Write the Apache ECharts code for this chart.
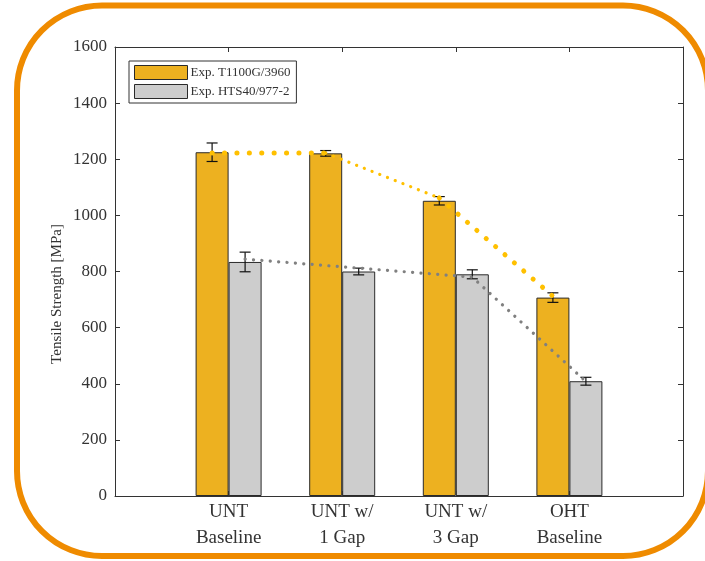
<!DOCTYPE html>
<html>
<head>
<meta charset="utf-8">
<script src="https://cdn.jsdelivr.net/npm/echarts@6/dist/echarts.min.js"></script>
<style>html,body{margin:0;padding:0;background:#fff;}#c{width:705px;height:561px;}</style>
</head>
<body>
<div id="c"></div>
<script>
// ---- data ----
const categories = ['UNT\nBaseline', 'UNT w/\n1 Gap', 'UNT w/\n3 Gap', 'OHT\nBaseline'];
const seriesNames = ['Exp. T1100G/3960', 'Exp. HTS40/977-2'];
const t1100Values = [1225, 1221, 1052, 707];
const t1100Errors = [33, 10, 15, 17];
const hts40Values = [834, 800, 790, 409];
const hts40Errors = [35, 12, 16, 14];
const t1100Trend = [1222, 1222, 1062, 712];
const hts40Trend = [844, 812, 780, 408];
const yTicks = [0, 200, 400, 600, 800, 1000, 1200, 1400, 1600];

// ---- layout / style ----
const GRID = {left: 115, right: 22, top: 47, bottom: 65};
const BAR_W = 33;
const X_MAX = categories.length + 1;
const unitPx = (705 - GRID.left - GRID.right) / X_MAX;
const halfBarUnits = (BAR_W / 2) / unitPx;
const ORANGE = '#EDB120', GREY = '#CDCDCD', EDGE = '#2a2a2a';
const FONT = 'Liberation Serif';
const TXT = '#333';

const catX = categories.map((_, i) => i + 1);

function barData(vals) { return vals.map((v, i) => [catX[i], v]); }
function errData(vals, errs, side) {
  return vals.map((v, i) => [catX[i], v - errs[i], v + errs[i], side]);
}
function trendData(vals, side, keep) {
  return vals.map((v, i) => keep(i) ? [catX[i] + side * halfBarUnits, v] : '-');
}

const errorSeries = (vals, errs, side) => ({
  type: 'custom',
  data: errData(vals, errs, side),
  z: 5,
  silent: true,
  encode: {x: 0, y: [1, 2]},
  renderItem: function (params, api) {
    const cx = api.coord([api.value(0), 0])[0] + api.value(3) * BAR_W / 2;
    const lo = api.coord([api.value(0), api.value(1)])[1];
    const hi = api.coord([api.value(0), api.value(2)])[1];
    const cap = 5.5;
    const st = {stroke: '#111', lineWidth: 1.2};
    return {
      type: 'group',
      children: [
        {type: 'line', shape: {x1: cx, y1: lo, x2: cx, y2: hi}, style: st},
        {type: 'line', shape: {x1: cx - cap, y1: lo, x2: cx + cap, y2: lo}, style: st},
        {type: 'line', shape: {x1: cx - cap, y1: hi, x2: cx + cap, y2: hi}, style: st}
      ]
    };
  }
});

const trendSeries = (vals, side, keep, color, width, gap) => ({
  type: 'line',
  data: trendData(vals, side, keep),
  symbol: 'none',
  z: 6,
  silent: true,
  connectNulls: false,
  lineStyle: {color: color, width: width, type: [0.1, gap], cap: 'round'}
});

const axisCommon = () => ({
  axisLine: {show: true, onZero: false, lineStyle: {color: '#333', width: 1}},
  axisTick: {show: true, inside: true, length: 5, lineStyle: {color: '#333'}},
  splitLine: {show: false}
});

const chart = echarts.init(document.getElementById('c'), null, {renderer: 'canvas'});
chart.setOption({
  animation: false,
  backgroundColor: '#fff',
  grid: GRID,
  legend: {
    data: seriesNames.map(n => ({name: n, icon: 'rect'})),
    orient: 'vertical',
    left: 129, top: 61,
    itemWidth: 53, itemHeight: 14, itemGap: 4,
    padding: [4, 6, 4, 5],
    borderColor: '#333', borderWidth: 1, borderRadius: 0,
    backgroundColor: '#fff',
    textStyle: {fontFamily: FONT, fontSize: 13, color: TXT, padding: [0, 0, 0, -2]},
    itemStyle: {borderColor: EDGE, borderWidth: 1}
  },
  xAxis: [
    Object.assign(axisCommon(), {
      type: 'value', min: 0, max: X_MAX, interval: 1, position: 'bottom',
      axisLabel: {
        fontFamily: FONT, fontSize: 19, color: TXT, lineHeight: 26, margin: 3,
        formatter: v => (v >= 1 && v <= categories.length) ? categories[v - 1] : ''
      }
    }),
    Object.assign(axisCommon(), {
      type: 'value', min: 0, max: X_MAX, interval: 1, position: 'top',
      axisLabel: {show: false}
    })
  ],
  yAxis: [
    Object.assign(axisCommon(), {
      type: 'value', min: yTicks[0], max: yTicks[yTicks.length - 1], interval: yTicks[1] - yTicks[0],
      position: 'left',
      axisLabel: {fontFamily: FONT, fontSize: 17, color: TXT, margin: 8, formatter: v => String(v)}
    }),
    Object.assign(axisCommon(), {
      type: 'value', min: yTicks[0], max: yTicks[yTicks.length - 1], interval: yTicks[1] - yTicks[0],
      position: 'right',
      axisLabel: {show: false}
    })
  ],
  graphic: [
    {
      type: 'text', x: 57, y: 294, rotation: Math.PI / 2,
      style: {text: 'Tensile Strength [MPa]', fontFamily: FONT, fontSize: 15, fill: TXT,
        align: 'center', verticalAlign: 'middle'}
    },
    {
      type: 'rect', z: 100, silent: true,
      shape: {x: 17, y: 5.5, width: 691, height: 550.5, r: 85},
      style: {fill: 'none', stroke: '#EF8B00', lineWidth: 6}
    }
  ],
  series: [
    {
      name: seriesNames[0], type: 'bar', data: barData(t1100Values),
      barWidth: BAR_W, barGap: '0%', z: 2,
      itemStyle: {color: ORANGE, borderColor: EDGE, borderWidth: 1}
    },
    {
      name: seriesNames[1], type: 'bar', data: barData(hts40Values),
      barWidth: BAR_W, barGap: '0%', z: 2,
      itemStyle: {color: GREY, borderColor: EDGE, borderWidth: 1}
    },
    errorSeries(t1100Values, t1100Errors, -1),
    errorSeries(hts40Values, hts40Errors, 1),
    trendSeries(t1100Trend, -1, i => i <= 1, '#FFC000', 5, 12.3),
    trendSeries(t1100Trend, -1, i => i >= 1 && i <= 2, '#FFC000', 3.2, 8.2),
    trendSeries(t1100Trend, -1, i => i >= 2, '#FFC000', 5, 12.3),
    trendSeries(hts40Trend, 1, i => true, '#808080', 3.2, 8.3)
  ]
});
</script>
</body>
</html>
